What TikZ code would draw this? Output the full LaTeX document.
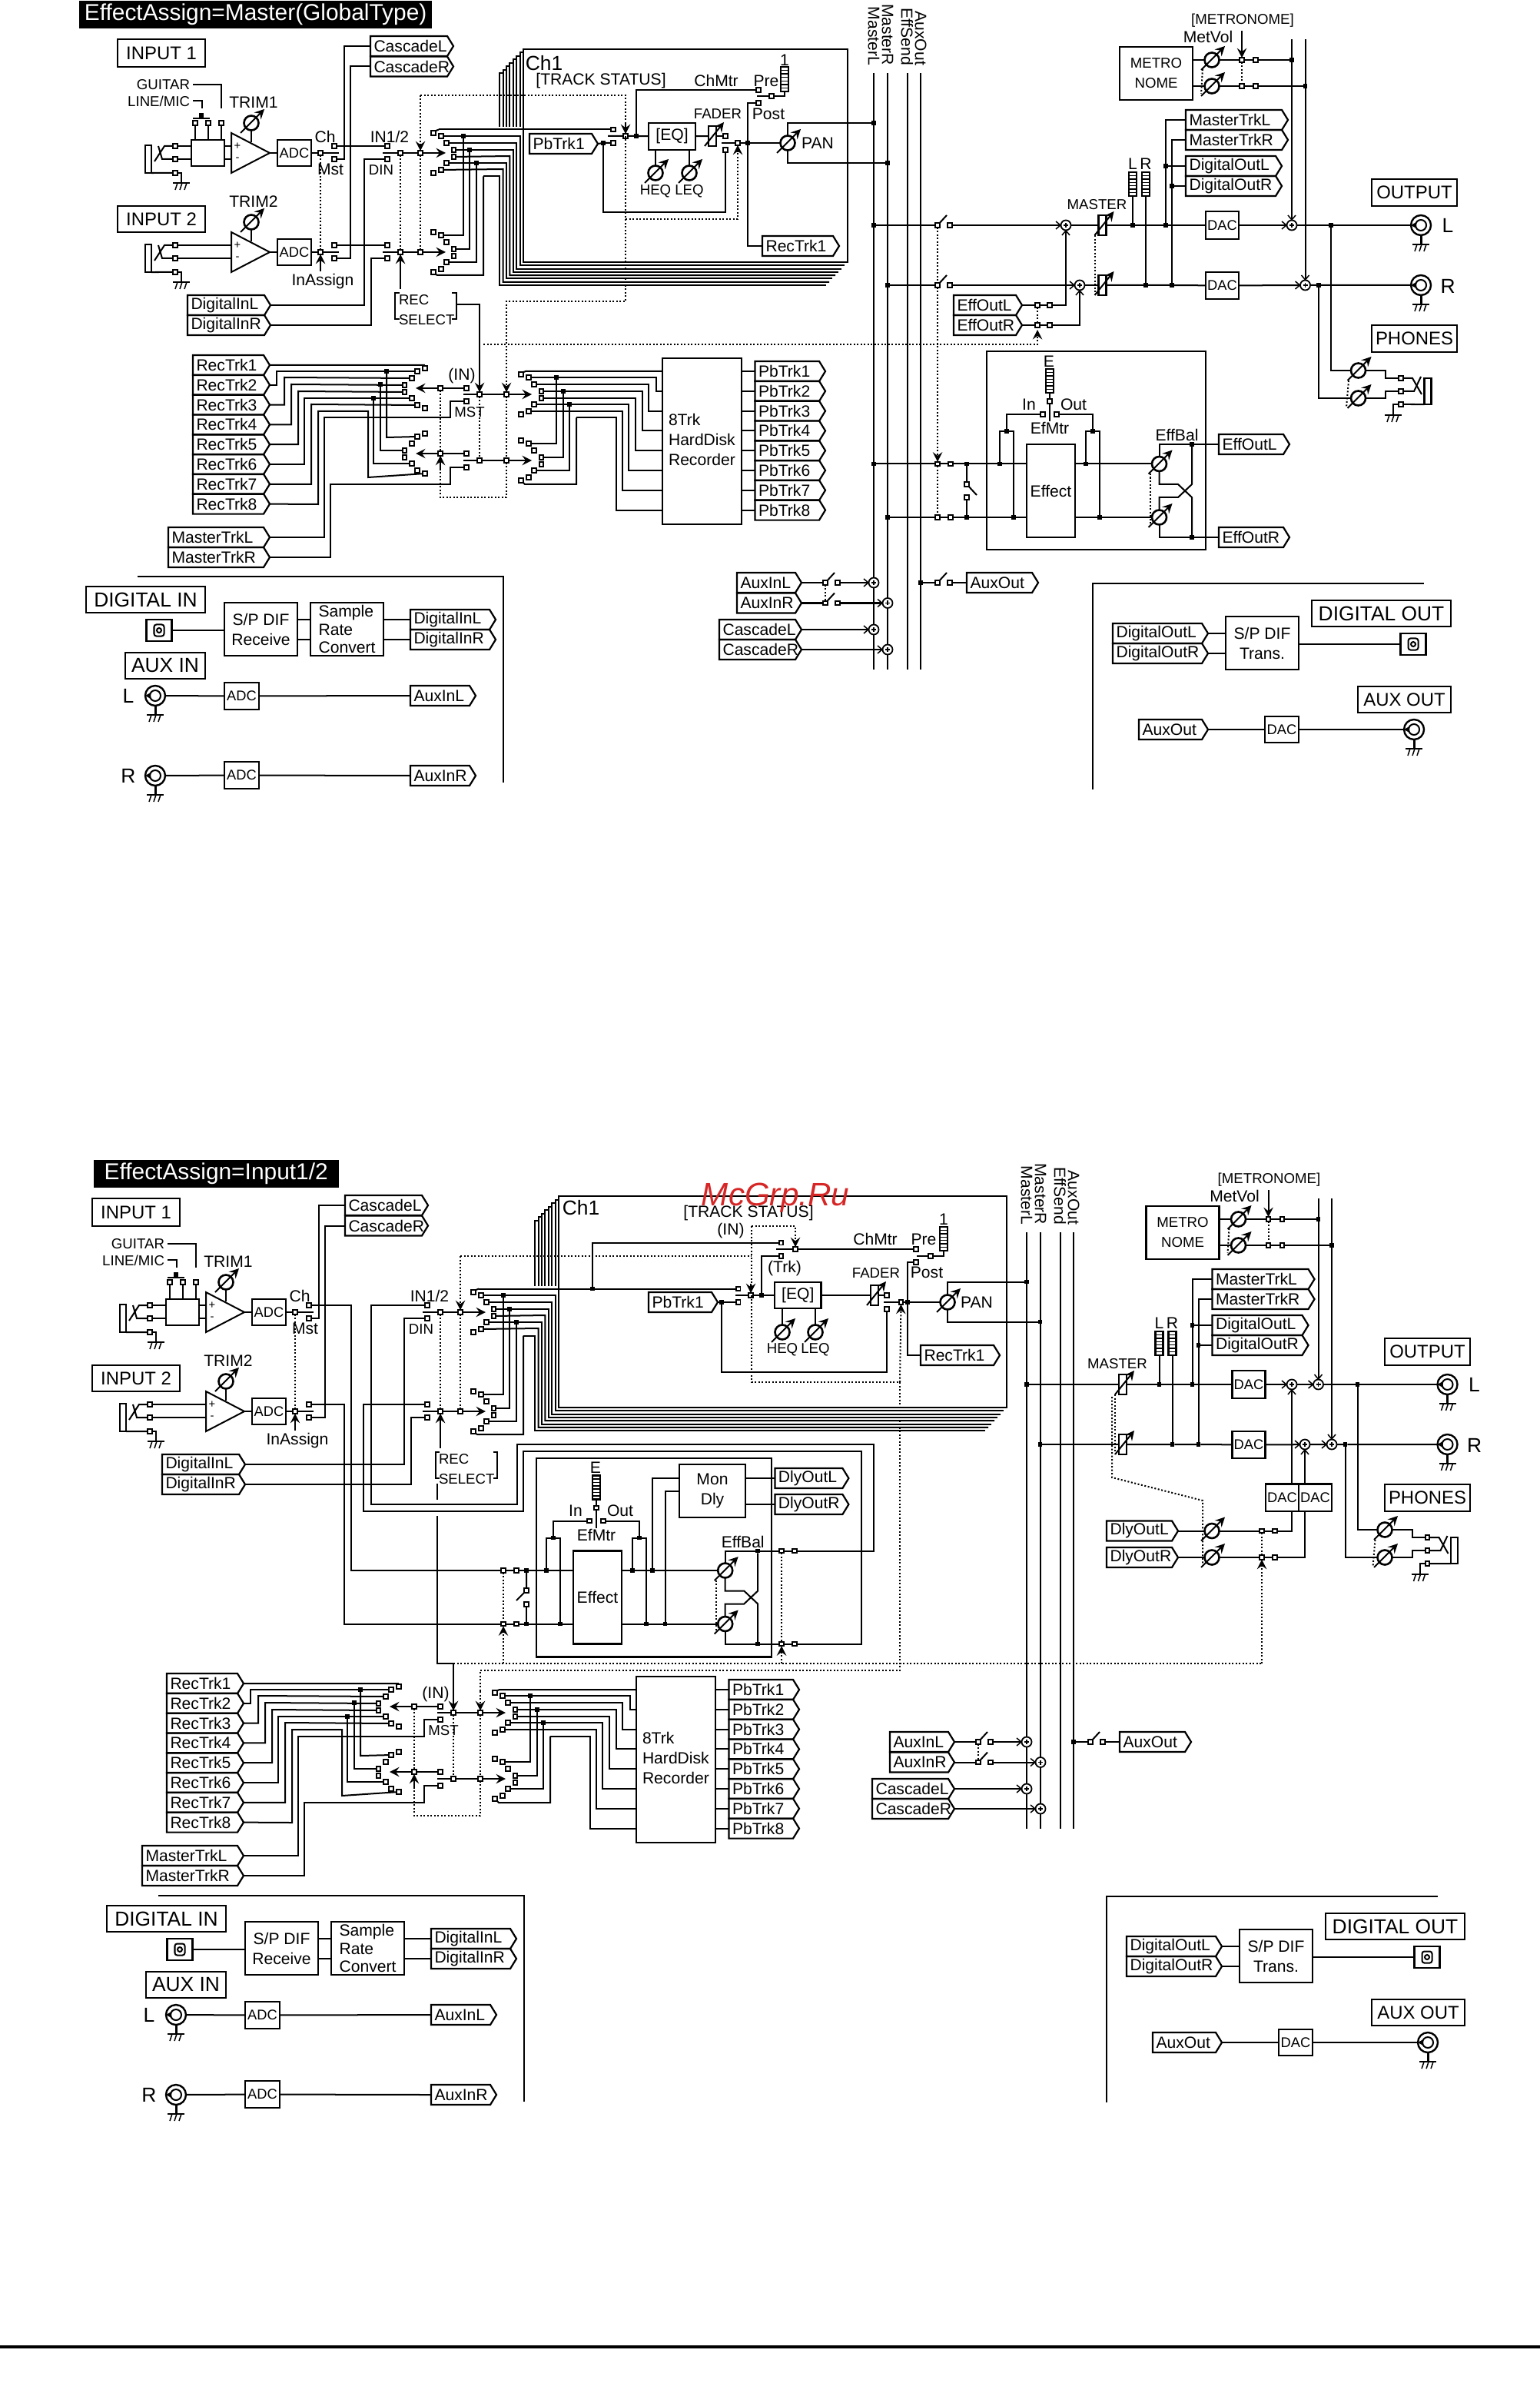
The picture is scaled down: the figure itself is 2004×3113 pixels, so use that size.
\documentclass[tikz,border=0pt]{standalone}
\usepackage{fontspec}
\setmainfont{Liberation Sans}

\newcommand{\tm}[3]{\node[term] (#1) at (#2,#3) {};}
\newcommand{\jd}[3]{\node[jdot] (#1) at (#2,#3) {};}
\newcommand{\lb}[4][]{\node[lab,#1] (#2) at (#3) {#4};}
\newcommand{\boxat}[6][]{\node[blk,anchor=north west,minimum width={(#4-#2)*0.01cm},minimum height={(#5-#3)*0.01cm},#1] (\boxname) at (#2,#3) {#6};}
\newcommand{\bx}[1]{\def\boxname{#1}\boxat}
\newcommand{\sigtag}[5]{%
    \pgfmathsetlengthmacro\tagw{(#4-9)*0.01cm}
    \node[tagtxt,text width=\tagw] (#1) at (#2,#3) {#5};
    \draw[tagline] (#1.north west) -- ([xshift=-.08cm]#1.north east) -- (#1.east) -- ([xshift=-.08cm]#1.south east) -- (#1.south west) -- cycle;}
\newcommand{\knobn}[3]{%
    \node[knobc] (#1) at (#2,#3) {};
    \draw[-stealth] (#2-14,#3+13) -- (#2+17,#3-18);}
\newcommand{\slidr}[3]{%
    \node[blk,minimum width=.1cm,minimum height=.26cm] (#1) at (#2,#3) {};
    \draw[-stealth] (#2-10,#3+13) -- (#2+15,#3-18);}
\newcommand{\mtr}[4]{%
    \node[blk,minimum width=.1cm,minimum height={(#4-#3)*0.01cm}] (#1) at (#2,{(#3+#4)/2}) {};
    \foreach \k in {1,...,6} {\draw[line width=.015cm] (#2-5,{#3+(#4-#3)*\k/7}) -- ++(10,0);}}
\newcommand{\gnd}[3]{%
    \coordinate (#1) at (#2,#3);
    \draw (#2-11,#3) -- (#2+11,#3);
    \foreach \k in {-6,0,6} {\draw[line width=.015cm] (#2+\k+1,#3) -- ++(-3,9);}}
\newcommand{\jackn}[3]{%
    \node[jackc] (#1) at (#2,#3) {};
    \node[jackd] (#1in) at (#2,#3) {};
    \fill (#2-13,#3) -- (#2-6,#3-4) -- (#2-6,#3+4) -- cycle;
    \draw[line width=.03cm] (#1) -- (#2,#3+24);
    \gnd{#1e}{#2}{#3+25}}
\newcommand{\sumj}[4]{%
    \node[sumc] (#1) at (#2,#3) {};
    \draw[line width=.015cm] (#2-3,#3) -- (#2+3,#3) (#2,#3-3) -- (#2,#3+3);
    \draw[line width=.015cm] (#2-13,#3-5) -- (#2-7,#3) -- (#2-13,#3+5);
    \ifnum#4=0\else\draw[line width=.015cm] (#2-5,#3+#4*13) -- (#2,#3+#4*7) -- (#2+5,#3+#4*13);\fi}
\newcommand{\optic}[3]{%
    \node[blk,minimum width=.33cm,minimum height=.28cm] (#1) at (#2,#3) {};
    \node[draw,rounded corners=.03cm,minimum width=.13cm,minimum height=.15cm,inner sep=0pt] (#1s) at (#2,#3) {};
    \node[jackd,minimum size=.06cm] (#1c) at (#2,#3) {};}
\newcommand{\fan}[4]{%
    \foreach \i/\ox/\oy in {1/-17/-26,2/-7/-22,3/0/-13,4/9.5/-4,5/9.5/5,6/0/13,7/-7/22,8/-17/26} {
        \node[term] (#1\i) at ({#2+#4*\ox},{#3+\oy}) {};}}
\newcommand{\sw}[4]{%
    \tm{#1}{#3}{#4}\tm{#2}{#3+16}{#4}
    \draw (#1) -- ++(12,-13);}

\newcommand{\inchan}[2]{%
    \begin{scope}[shift={(0,#2)}]
        \node[blk,minimum width=.08cm,minimum height=.36cm] (bar#1) at (193,207) {};
        \tm{tip#1}{228}{190}\tm{ring#1}{228}{207}\tm{slv#1}{228}{225}
        \draw (tip#1) -- (214,190) -- (201,210);
        \draw (ring#1) -- (211,207) -- (206,190);
        \draw (bar#1.south east) -- (slv#1);
        \draw (slv#1) -- (236,225) -- (236,238);
        \gnd{earth#1}{236}{238}
        \coordinate (amp#1) at (351,199);
        \draw (301,173) -- (301,225) -- (amp#1) -- cycle;
        \lb[tinyl]{plus#1}{309,190}{+}
        \lb[tinyl]{minus#1}{309,207}{-}
        \knobn{trim#1}{327}{160}
        \draw (trim#1) -- (327,185);
        \lb{trimlab#1}{330,133}{TRIM#1}
        \bx{adc#1}[abc]{361}{182}{405}{216}{ADC}
        \draw (amp#1) -- (adc#1);
        \tm{com#1}{417}{199}\tm{ch#1}{435}{190}\tm{ms#1}{435}{207}
        \draw (adc#1) -- (com#1) -- (441,199);
    \end{scope}}

\newcommand{\inblk}[3]{%
    \begin{scope}[shift={(#2,#3)},name prefix=#1-]
        \bx{inA}[midb]{153}{51}{267}{87}{INPUT 1}
        \bx{inB}[midb]{153}{268}{267}{302}{INPUT 2}
        \inchan{1}{0}
        \inchan{2}{129}
        \bx{xf}{249}{182}{292}{216}{}
        \draw (tip1) -- (xf.west |- tip1);
        \draw (ring1) -- (xf.west |- ring1);
        \draw (292,190) -- (301,190) (292,207) -- (301,207);
        \draw (tip2) -- (301,319);
        \draw (ring2) -- (301,336);
        \tm{gt1}{254}{160}\tm{gt2}{271}{160}\tm{gt3}{288}{160}
        \draw (gt1) -- (254,182) (gt2) -- (271,182) (gt3) -- (288,182);
        \draw (251,154) -- (273,154);
        \jd{gtd}{262}{150}
        \lb[capl,anchor=east]{guit}{247,110}{GUITAR}
        \lb[capl,anchor=east]{lmic}{247,132}{LINE/MIC}
        \draw (251,110) -- (288,110) -- (288,141);
        \draw (251,131) -- (263,131) -- (263,141);
        \lb{chl}{423,178}{Ch}
        \lb{mstl}{430,220}{Mst}
        \lb{asgn}{420,366}{InAssign}
        \draw[link] (com1) -- (com2);
        \draw[-stealth] (417,353) -- (com2);
        \sigtag{cascL}{482}{60}{108}{CascadeL}
        \sigtag{cascR}{482}{86.5}{108}{CascadeR}
        \draw (ms1) -- (448,207) -- (448,60) -- (cascL.west);
        \draw (ms2) -- (456,336) -- (456,86.5) -- (cascR.west);
        \sigtag{digL}{244}{397}{108}{DigitalInL}
        \sigtag{digR}{244}{423}{108}{DigitalInR}
    \end{scope}}

\newcommand{\selblk}[7]{%
    \begin{scope}[shift={(#2,#3)},name prefix=#1-]
        \lb{inl}{507,178}{IN1/2}
        \lb[capl]{din}{496,221}{DIN}
        \tm{a1}{504}{190}\tm{a2}{504}{207}\tm{a3}{504}{319}\tm{a4}{504}{336}
        \coordinate (armA) at (498,199);
        \coordinate (armB) at (498,328);
        \fan{b}{581}{199}{1}
        \fan{c}{581}{328}{1}
        \draw[-stealth] (armA) -- (580,199);
        \draw[-stealth] (armB) -- (580,328);
        \tm{s1}{521}{199}\tm{t1}{547}{199}\tm{s2}{521}{328}\tm{t2}{547}{328}
        \draw[link] (s1) -- (s2);
        \draw[link] (t1) -- (t2);
        \draw[-stealth] (521,376) -- (s2);
        \coordinate (w1) at (571,168.5);
        \draw (b1.north east) -- (w1);
        \draw[box] (#4,#6) rectangle (#5,#7);
        \foreach \i/\ly/\bk in {1/177/b2,2/186/b3,3/195/b4,4/203/b5,5/212/b6,6/220/b7} {
            \draw (\bk) -- ({#4-4.4*\i},\ly) -- ({#4-4.4*\i},{#7+4.3*\i}) -- ({#5-4*\i},{#7+4.3*\i});
            \draw ({#4-4.4*\i},165) -- ({#4-4.4*\i},{#6+4.5*\i}) -- ({#4-4.4*\i+4.4},{#6+4.5*\i});}
        \draw (629,229.5) -- ({#4-30.8},229.5) -- ({#4-30.8},{#7+30.1}) -- ({#5-28},{#7+30.1});
        \draw ({#4-30.8},165) -- ({#4-30.8},{#6+31.5}) -- ({#4-26.4},{#6+31.5});
        \jd{dA}{603}{177}\jd{dB}{611}{195}\jd{dC}{620}{212}
        \draw (dA) -- (603,306) -- (c2);
        \draw (dB) -- (611,324) -- (c4);
        \draw (dC) -- (620,341) -- (c6);
        \draw (629,229.5) -- (629,358) -- (569,358) -- (c8.south east);
    \end{scope}}

\newcommand{\recblk}[3]{%
    \begin{scope}[shift={(#2,#3)},name prefix=#1-]
        \foreach \i in {1,...,8} {\sigtag{recT\i}{251}{{475+25.8*(\i-1)}}{100}{RecTrk\i}}
        \sigtag{mstL}{219}{699}{132}{MasterTrkL}
        \sigtag{mstR}{219}{725}{132}{MasterTrkR}
        \fan{fa}{536}{505}{-1}
        \fan{fb}{536}{590}{-1}
        \draw (recT1.east) -- (552,475) -- (fa1);
        \foreach \i/\xv/\yw in {2/360/483,3/370/491,4/379/500,5/388/509,6/396/518,7/405/526} {
            \draw (recT\i.east) -- (\xv,{475+25.8*(\i-1)}) -- (\xv,\yw) -- (fa\i);}
        \draw (recT8.east) -- (414,656) -- (414,535) -- (479,535) -- (479,621) -- (fb8);
        \jd{dp}{503}{483}\jd{dq}{495}{500}\jd{dr}{486}{518}
        \draw (dp) -- (503,569) -- (fb2);
        \draw (dq) -- (495,586) -- (fb4);
        \draw (dr) -- (486,603) -- (fb6);
        \tm{ma1}{573}{505}\tm{ma2}{573}{590}\tm{pi1}{607}{505}\tm{pi2}{607}{590}
        \tm{ms1}{607}{522}\tm{ms2}{607}{608}
        \draw (pi1) -- (ma1);
        \draw (pi2) -- (ma2);
        \draw[-stealth] (ma1) -- (541,505);
        \draw[-stealth] (ma2) -- (541,590);
        \lb{inl}{601,489}{(IN)}
        \lb[capl]{mstl}{611,536}{MST}
        \draw (mstL.east) -- (422,699) -- (422,543.5) -- (586,543.5) -- (586,522) -- (ms1);
        \draw (mstR.east) -- (430,725) -- (430,630) -- (586,630) -- (586,608) -- (ms2);
        \coordinate (arA) at (603,513);
        \coordinate (arB) at (603,599);
        \draw[-stealth] (arA) -- (692,513);
        \draw[-stealth] (arB) -- (692,599);
        \tm{co1}{624}{513}\tm{co2}{659}{513}\tm{co3}{624}{599}\tm{co4}{659}{599}
        \draw[link] (co1) -- (co3);
        \draw[link] (ma1) -- (ma2);
        \draw[link] (co2) -- (co4);
        \draw[link] (co4) -- (659,647) -- (573,647) -- (573,610);
        \draw[-stealth] (573,610) -- (ma2);
        \fan{fc}{695}{513}{1}
        \fan{fd}{695}{599}{1}
        \bx{hd}{862}{466}{965}{682}{}
        \lb[anchor=west]{hdA}{870,546}{8Trk}
        \lb[anchor=west]{hdB}{870,572}{HardDisk}
        \lb[anchor=west]{hdC}{870,598}{Recorder}
        \foreach \i in {1,...,8} {
            \sigtag{pbT\i}{982.5}{{483+25.8*(\i-1)}}{91.5}{PbTrk\i}
            \draw (hd.east |- pbT\i.west) -- (pbT\i.west);}
        \draw (fc1.north east) -- (684,483) -- (862,483);
        \foreach \i/\xv/\yw/\yh in {2/854/491/509,3/844/500/535,4/836/509/560,5/827/518/586,6/818/526/612,7/810/535/638} {
            \draw (fc\i) -- (\xv,\yw) -- (\xv,\yh) -- (862,\yh);}
        \draw (750,543.5) -- (802,543.5) -- (802,664) -- (862,664);
        \jd{dt}{724}{491}\jd{du}{733}{509}\jd{dv}{741}{526}
        \draw (dt) -- (724,577) -- (fd2);
        \draw (du) -- (733,595) -- (fd4);
        \draw (dv) -- (741,612) -- (fd6);
        \draw (750,543.5) -- (750,630) -- (683,630) -- (fd8.south east);
    \end{scope}}

\newcommand{\digin}[3]{%
    \begin{scope}[shift={(#2,#3)},name prefix=#1-]
        \draw[box] (179,750) -- (655,750) -- (655,1018);
        \bx{dbox}[big]{112}{763}{267}{797}{DIGITAL IN}
        \bx{abox}[big]{163}{849}{267}{883}{AUX IN}
        \optic{opt}{207}{820}
        \bx{spd}{292}{784}{387}{853}{S/P DIF\\Receive}
        \bx{src}[align=left,font=\fontsize{6}{6.7}\selectfont]{404}{784}{499}{853}{Sample\\Rate\\Convert}
        \sigtag{dL}{534}{806}{111}{DigitalInL}
        \sigtag{dR}{534}{832}{111}{DigitalInR}
        \draw (opt) -- (spd.west |- opt);
        \draw (387,806) -- (404,806) (387,832) -- (404,832);
        \draw (499,806) -- (dL.west);
        \draw (499,832) -- (dR.west);
        \foreach \s/\yy/\tx/\boxy in {L/905/L/888,R/1009/R/991} {
            \lb{jl\s}{167,\yy}{\fontsize{7.5}{9}\selectfont \tx}
            \jackn{jk\s}{202}{\yy}
            \bx{ad\s}[abc]{292}{\boxy}{337}{\boxy+35}{ADC}
            \sigtag{au\s}{534}{\yy}{85}{AuxIn\s}
            \draw (jk\s) -- (ad\s);
            \draw (ad\s) -- (au\s.west);}
    \end{scope}}

\newcommand{\digout}[3]{%
    \begin{scope}[shift={(#2,#3)},name prefix=#1-]
        \draw[box] (1853,759) -- (1422,759) -- (1422,1027);
        \bx{dbox}[big]{1707}{781}{1888}{815}{DIGITAL OUT}
        \bx{abox}[midb]{1767}{893}{1888}{927}{AUX OUT}
        \sigtag{oL}{1448}{824}{124}{DigitalOutL}
        \sigtag{oR}{1448}{850}{124}{DigitalOutR}
        \bx{spd}{1595}{802}{1690}{871}{S/P DIF\\Trans.}
        \optic{opt}{1839}{838}
        \draw (oL.east) -- (spd.west |- oL.east);
        \draw (oR.east) -- (spd.west |- oR.east);
        \draw (spd.east |- opt) -- (opt);
        \sigtag{aux}{1482}{949}{90}{AuxOut}
        \bx{dac}[abc]{1646}{932}{1690}{966}{DAC}
        \jackn{jk}{1840}{949}
        \draw (aux.east) -- (dac);
        \draw (dac) -- (jk);
    \end{scope}}

\newcommand{\busblk}[3]{%
    \begin{scope}[shift={(#2,#3)},name prefix=#1-]
        \foreach \nm/\xb in {MasterL/1137,MasterR/1155,EffSend/1180.5,AuxOut/1198} {
            \coordinate (bt\nm) at (\xb,95);
            \coordinate (bb\nm) at (\xb,871);
            \draw (bt\nm) -- (bb\nm);
            \node[lab,rotate=-90,anchor=east] (bl\nm) at (\xb,85) {\nm};}
        \sigtag{auL}{959}{758}{84}{AuxInL}
        \sigtag{auR}{959}{784.5}{84}{AuxInR}
        \sigtag{caL}{936}{819}{107}{CascadeL}
        \sigtag{caR}{936}{845}{107}{CascadeR}
        \sw{sa}{sb}{1074}{758}
        \sw{sc}{sd}{1074}{784.5}
        \draw[link] (sa) -- (sc);
        \sumj{s1}{1137}{758}{0}
        \sumj{s2}{1155}{784.5}{0}
        \sumj{s3}{1137}{819}{0}
        \sumj{s4}{1155}{845}{0}
        \draw (auL.east) -- (sa);
        \draw (auR.east) -- (sc);
        \draw (sb) -- (s1);
        \draw (sd) -- (s2);
        \draw (caL.east) -- (s3);
        \draw (caR.east) -- (s4);
        \jd{ao}{1198}{758}
        \sw{se}{sf}{1220}{758}
        \sigtag{aot}{1258}{758}{93}{AuxOut}
        \draw (ao) -- (se);
        \draw (sf) -- (aot.west);
    \end{scope}}

\newcommand{\outblk}[5]{%
    \begin{scope}[shift={(#2,#3)},name prefix=#1-]
        \bx{mbox}[capl]{1457}{61}{1552}{130}{METRO\\NOME}
        \lb[capl]{mett}{1617,27}{[METRONOME]}
        \lb{metv}{1572,48}{MetVol}
        \knobn{mk1}{1577}{78}
        \knobn{mk2}{1577}{112}
        \tm{me1}{1616}{78}\tm{me2}{1634}{78}\tm{me3}{1616}{112}\tm{me4}{1634}{112}
        \jd{md1}{1681}{78}\jd{md2}{1698.5}{112}
        \draw (1552,78) -- (mk1) -- (me1) -- (me2) -- (md1);
        \draw (1552,112) -- (mk2) -- (me3) -- (me4) -- (md2);
        \draw[link] (me1) -- (me3);
        \draw[link] (1565,90) -- (1563,122);
        \draw[-stealth] (1616,40) -- (me1);
        \slidr{fL}{#4}{293}
        \slidr{fR}{#4}{371}
        \draw[link] ([xshift=-.1cm]fL.south) -- ([xshift=-.1cm]fR.south);
        \lb[capl]{mstl}{{#4-7},266}{MASTER}
        \mtr{mL}{1474}{224}{255}
        \mtr{mR}{1491}{224}{255}
        \lb{mLl}{1474,213}{L}
        \lb{mRl}{1491,213}{R}
        \sigtag{tL}{1543}{156}{133}{MasterTrkL}
        \sigtag{tR}{1543}{182}{133}{MasterTrkR}
        \sigtag{gL}{1543}{216}{125}{DigitalOutL}
        \sigtag{gR}{1543}{242}{125}{DigitalOutR}
        \bx{daL}[abc]{1569}{275}{1612}{311}{DAC}
        \bx{daR}[abc]{1569}{354}{1612}{389}{DAC}
        \jd{pL}{1474}{293}\jd{pR}{1491}{371}\jd{qL}{1517}{293}\jd{qR}{1525}{371}
        \jd{rL}{1517}{216}\jd{rR}{1525}{242}
        \sumj{sL}{1681}{293}{-1}
        \sumj{sR}{1698.5}{371}{-1}
        \jd{uL}{1732}{293}\jd{uR}{1716}{371}
        \jackn{jL}{1849}{293}
        \jackn{jR}{1849}{371}
        \lb{jLl}{1884,293}{\fontsize{7.5}{9}\selectfont L}
        \lb{jRl}{1884,372}{\fontsize{7.5}{9}\selectfont R}
        \draw (fL) -- (pL) -- (qL) -- (daL) -- (sL) -- (uL) -- (jL);
        \draw (fR) -- (pR) -- (qR) -- (daR) -- (sR) -- (uR) -- (jR);
        \draw (md1) -- (1681,51);
        \draw (md2) -- (1698.5,51);
        \draw (md1) -- (sL);
        \draw (md2) -- (sR);
        \draw (pL) -- (mL);
        \draw (pR) -- (mR);
        \draw (qL) -- (rL) -- (1517,156) -- (tL.west);
        \draw (qR) -- (rR) -- (1525,182) -- (tR.west);
        \draw (rL) -- (gL.west);
        \draw (rR) -- (gR.west);
        \bx{obox}[midb]{#5}{233}{#5+111}{268}{OUTPUT}
        \bx{pbox}[midb]{#5}{423}{#5+111}{458}{PHONES}
        \knobn{phL}{1767.5}{482}
        \knobn{phR}{1767.5}{518}
        \draw[link] (1755,495) -- (1752,530);
        \draw (uL) -- (1732,482) -- (phL);
        \draw (uR) -- (1716,518) -- (phR);
        \tm{pa}{1823}{492}\tm{pb}{1823}{509}\tm{pc}{1823}{526}
        \draw (phL) -- (1803,482) -- (1803,492) -- (pa);
        \draw (phR) -- (1803,518) -- (1803,509) -- (pb);
        \node[blk,minimum width=.09cm,minimum height=.34cm] (pbar) at (1858,509) {};
        \draw (pa) -- (1838,492) -- (1850,513);
        \draw (pb) -- (1840,509) -- (1849,490);
        \draw (pc) -- (pbar.south west);
        \draw (pc) -- (1813,526) -- (1813,540);
        \gnd{pe}{1813}{540}
    \end{scope}}

\newcommand{\effcore}[4]{%
    \begin{scope}[shift={(#2,#3)},name prefix=#1-]
        \bx{eff}{1336}{578}{1399}{699}{Effect}
        \mtr{emt}{1366}{480}{511}
        \lb{el}{1365,470}{E}
        \tm{et}{1366}{522}\tm{ei}{1357}{539}\tm{eo}{1375}{539}
        \draw (emt) -- (et) -- (1366,548);
        \lb{il}{1339,526}{In}
        \lb{ol}{1397,526}{Out}
        \lb{ml}{1366,557}{EfMtr}
        \jd{iL}{1301}{603.5}\jd{iR}{1319}{673}\jd{oL}{1413}{603.5}\jd{oR}{1431}{673}
        \jd{ji}{1310}{561}\jd{jo}{1422}{561}
        \draw (ei) -- (1310,539) -- (ji);
        \draw (iL) -- (1301,561) -- (1319,561) -- (iR);
        \draw (eo) -- (1422,539) -- (jo);
        \draw (oL) -- (1413,561) -- (1431,561) -- (oR);
        \draw (iL) -- (eff.west |- iL);
        \draw (iR) -- (eff.west |- iR);
        \draw (eff.east |- oL) -- (oL);
        \draw (eff.east |- oR) -- (oR);
        \knobn{kL}{#4}{603.5}
        \knobn{kR}{#4}{673}
        \draw (oL) -- (kL);
        \draw (oR) -- (kR);
        \draw[link] ({#4-12},616) -- ({#4-12},683);
        \lb{bl}{{#4+23},566}{EffBal}
        \jd{xT}{{#4+42.5}}{578}\jd{xB}{{#4+42.5}}{699}
        \draw (kL) -- (#4,578) -- (xT);
        \draw (kR) -- (#4,699) -- (xB);
        \draw (kL) -- (#4,630) -- ({#4+24.5},630) -- ({#4+42.5},647) -- (xB);
        \draw (kR) -- (#4,647) -- ({#4+24.5},647) -- ({#4+42.5},630) -- (xT);
    \end{scope}}

\begin{document}
\begin{tikzpicture}[x=.01cm,y=-.01cm,line width=.02cm]
        \tikzstyle{lab}=[inner sep=0pt, outer sep=0pt, font=\fontsize{6}{7.4}\selectfont]
        \tikzstyle{capl}=[font=\fontsize{5.3}{7.4}\selectfont]
        \tikzstyle{tinyl}=[font=\fontsize{4.2}{4.6}\selectfont]
        \tikzstyle{abc}=[font=\fontsize{5.2}{6}\selectfont]
        \tikzstyle{big}=[line width=.026cm, font=\fontsize{7.5}{9}\selectfont]
        \tikzstyle{midb}=[line width=.026cm, font=\fontsize{6.8}{9}\selectfont]
        \tikzstyle{blk}=[draw, fill=white, inner sep=0pt, outer sep=0pt, align=center, line width=.024cm, font=\fontsize{6}{7.4}\selectfont]
        \tikzstyle{box}=[line width=.026cm]
        \tikzstyle{tagtxt}=[anchor=west, inner xsep=.045cm, inner ysep=0pt, outer sep=0pt, minimum height=.26cm, align=left, font=\fontsize{6}{7}\selectfont]
        \tikzstyle{tagline}=[line width=.022cm]
        \tikzstyle{term}=[draw, fill=white, rectangle, inner sep=0pt, outer sep=0pt, minimum size=.055cm, line width=.016cm]
        \tikzstyle{jdot}=[fill=black, rectangle, inner sep=0pt, outer sep=0pt, minimum size=.055cm]
        \tikzstyle{knobc}=[draw, fill=white, circle, inner sep=0pt, outer sep=0pt, minimum size=.19cm, line width=.026cm]
        \tikzstyle{jackc}=[draw, fill=white, circle, inner sep=0pt, outer sep=0pt, minimum size=.26cm, line width=.024cm]
        \tikzstyle{jackd}=[draw, circle, inner sep=0pt, outer sep=0pt, minimum size=.14cm, line width=.02cm]
        \tikzstyle{sumc}=[draw, fill=white, circle, inner sep=0pt, outer sep=0pt, minimum size=.13cm, line width=.018cm]
        \tikzstyle{link}=[dash pattern=on .02cm off .025cm]

        \useasboundingbox (0,0) rectangle (2004,3113);

        \node[fill=black, text=white, inner sep=0pt, minimum width=4.59cm, minimum height=.36cm, anchor=north west, font=\fontsize{8.5}{9}\selectfont] (titleA) at (102,0) {EffectAssign=Master(GlobalType)};

        \inblk{m-in}{0}{0}
        \selblk{m-sel}{0}{0}{681}{1103}{64}{341}
        \recblk{m-rec}{0}{0}
        \digin{m-dig}{0}{0}
        \digout{m-dgo}{0}{0}
        \busblk{m-bus}{0}{0}
        \outblk{m-out}{0}{0}{1434.5}{1785}
        \draw (m-in-ch1) -- (m-sel-a1);
        \draw (m-in-ch2) -- (m-sel-a3);
        \draw (m-in-digL.east) -- (474,397) -- (474,207) -- (m-sel-a2);
        \draw (m-in-digR.east) -- (483,423) -- (483,336) -- (m-sel-a4);

        \lb{chA}{708,82}{\fontsize{7.5}{9}\selectfont Ch1}
        \lb{tsA}{782,105}{[TRACK STATUS]}
        \lb{cmA}{932,105}{ChMtr}
        \lb{prA}{997,105}{Pre}
        \lb{poA}{1000,148}{Post}
        \lb[capl]{faA}{934,148}{FADER}
        \lb{oneA}{1021,78}{1}
        \tm{chiA}{798}{168.5}\tm{chpA}{798}{186}
        \sigtag{pbA}{689}{187}{89}{PbTrk1}
        \jd{pbdA}{785}{186}
        \draw (m-sel-w1) -- (chiA);
        \draw (pbA.east) -- (pbdA) -- (chpA);
        \bx{eqA}{844}{160}{905}{195}{[EQ]}
        \coordinate (armqA) at (791,177);
        \tm{trkA}{814}{177}\jd{tapA}{828}{177}
        \draw (armqA) -- (trkA) -- (tapA) -- (eqA);
        \tm{preA}{987}{117}\tm{postA}{987}{134}
        \draw (tapA) -- (828,117) -- (preA);
        \jd{sendA}{973}{186}
        \sigtag{rtA}{992}{320}{100}{RecTrk1}
        \draw (postA) -- (973,134) -- (sendA) -- (973,320) -- (rtA.west);
        \slidr{fdA}{927}{177}
        \draw (eqA) -- (fdA);
        \tm{fbA}{944}{177}\tm{fcA}{944}{195}
        \draw (fdA) -- (fbA);
        \coordinate (armfA) at (939,186);
        \tm{fmA}{960}{186}
        \knobn{panA}{1025}{186}
        \draw (armfA) -- (fmA) -- (sendA) -- (panA);
        \draw (pbdA) -- (785,276) -- (944,276) -- (fcA);
        \lb{plA}{1064,186}{PAN}
        \jd{plmA}{1137}{160}\jd{prmA}{1155}{212}
        \draw (panA) -- (1025,160) -- (plmA);
        \draw (panA) -- (1025,212) -- (prmA);
        \knobn{heqA}{853}{225}
        \knobn{leqA}{897}{225}
        \draw (heqA) -- (853,195);
        \draw (leqA) -- (897,195);
        \lb[capl]{hlA}{853,249}{HEQ}
        \lb[capl]{llA}{897,249}{LEQ}
        \mtr{mchA}{1021}{87}{119}
        \tm{mtA}{1004}{125}
        \draw (985,125) -- (mtA) -- (1021,125) -- (mchA);

        \draw[link,-stealth] (547,124) -- (m-sel-t1);
        \draw[link] (547,124) -- (814,124) -- (814,165);
        \draw[-stealth] (814,160) -- (trkA);
        \draw[link,-stealth] (814,177) -- (814,392) -- (659,392) -- (m-rec-co2);
        \draw[link,-stealth] (814,285) -- (960,285) -- (fmA);
        \node[lab, capl, align=left, anchor=north west] (rsA) at (519,383) {REC\\SELECT};
        \draw (520,381) -- (514,381) -- (514,415) -- (520,415);
        \draw (588,381) -- (594,381) -- (594,415) -- (588,415);
        \draw[-stealth] (594,396) -- (624,396) -- (m-rec-co1);
        \draw[link,-stealth] (629,448) -- (1350,448) -- (1350,429);

        \jd{bdLA}{1137}{293}\jd{bdRA}{1155}{371}
        \sw{swLa}{swLb}{1220}{293}
        \sw{swRa}{swRb}{1220}{371}
        \sumj{efLA}{1387}{293}{1}
        \sumj{efRA}{1405}{371}{1}
        \draw (bdLA) -- (swLa);
        \draw (swLb) -- (efLA) -- (m-out-fL);
        \draw (bdRA) -- (swRa);
        \draw (swRb) -- (efRA) -- (m-out-fR);
        \sigtag{eoLA}{1241}{397}{89}{EffOutL}
        \sigtag{eoRA}{1241}{423}{89}{EffOutR}
        \tm{etA}{1350}{397}\tm{etB}{1366}{397}\tm{etC}{1350}{423}\tm{etD}{1366}{423}
        \draw (eoLA.east) -- (etA) -- (etB) -- (1387,397) -- (efLA);
        \draw (eoRA.east) -- (etC) -- (etD) -- (1405,423) -- (efRA);
        \draw[link] (etA) -- (etC);

        \draw[box] (1284,457) rectangle (1569,715);
        \effcore{m-core}{0}{0}{1508.5}
        \jd{ebA}{1137}{603.5}\jd{ebB}{1155}{673}
        \tm{eaA}{1220}{603.5}\tm{eaB}{1237}{603.5}\jd{eaC}{1258}{603.5}
        \tm{faA}{1220}{673}\tm{faB}{1237}{673}\jd{faC}{1258}{673}
        \draw (ebA) -- (eaA) -- (eaB) -- (eaC) -- (m-core-iL);
        \draw (ebB) -- (faA) -- (faB) -- (faC) -- (m-core-iR);
        \tm{lkA}{1258}{630}\tm{lkB}{1258}{647}
        \draw (eaC) -- (lkA) -- (1271,644);
        \draw (lkB) -- (faC);
        \draw[link] (swLa) -- (swRa);
        \draw[link,-stealth] (swRa) -- (eaA);
        \draw[link] (eaA) -- (faA);
        \sigtag{efoLA}{1586}{578}{92}{EffOutL}
        \sigtag{efoRA}{1586}{699}{92}{EffOutR}
        \draw (m-core-xT) -- (efoLA.west);
        \draw (m-core-xB) -- (efoRA.west);

        \node[fill=black, text=white, inner sep=0pt, minimum width=3.19cm, minimum height=.36cm, anchor=north west, font=\fontsize{8.5}{9}\selectfont] (titleB) at (120.6,1508) {EffectAssign=Input1/2};

        \inblk{n-in}{-33}{1508}
        \selblk{n-sel}{52}{1508}{675}{1258}{48}{323}
        \recblk{n-rec}{-34}{1715}
        \digin{n-dig}{27}{1716}
        \digout{n-dgo}{18}{1708}
        \busblk{n-bus}{199}{1508}
        \outblk{n-out}{34.5}{1508}{1426.5}{1767.5}
        \draw (n-in-digL.east) -- (526,1905) -- (526,1715) -- (n-sel-a2);
        \draw (n-in-digR.east) -- (534.5,1931) -- (534.5,1844) -- (n-sel-a4);

        \lb{chB}{756,1571}{\fontsize{7.5}{9}\selectfont Ch1}
        \lb{tsB}{974,1578}{[TRACK STATUS]}
        \lb{iiB}{951,1601}{(IN)}
        \lb{tkB}{1021,1650}{(Trk)}
        \lb{cmB}{1139,1612}{ChMtr}
        \lb{prB}{1202,1612}{Pre}
        \lb{poB}{1206,1655}{Post}
        \lb[capl]{faB}{1140,1656}{FADER}
        \lb{oneB}{1228,1586}{1}
        \tm{chiB}{960.6}{1676.5}\tm{chpB}{960.6}{1694}
        \jd{linB}{771}{1676.5}
        \draw (n-sel-w1) -- (linB) -- (chiB);
        \tm{upB}{1016.5}{1616.6}\tm{loB}{1016.5}{1634}
        \draw (linB) -- (771,1616.6) -- (upB);
        \sigtag{pbB}{844}{1694}{90}{PbTrk1}
        \jd{pbdB}{939}{1694}
        \draw (pbB.east) -- (pbdB) -- (chpB);
        \bx{eqB}{1008}{1668}{1068.5}{1702}{[EQ]}
        \coordinate (armqB) at (957,1685);
        \tm{trkB}{977}{1685}\jd{tapB}{991}{1685}
        \draw (armqB) -- (trkB) -- (tapB) -- (eqB);
        \draw (loB) -- (991,1634) -- (tapB);
        \coordinate (armmB) at (1010,1625);
        \tm{midB}{1035}{1625}\tm{preB}{1192}{1625}\tm{postB}{1192}{1642}
        \draw (armmB) -- (midB) -- (preB);
        \jd{sendB}{1181}{1694}
        \sigtag{rtB}{1198}{1763}{103}{RecTrk1}
        \draw (postB) -- (1181,1642) -- (sendB) -- (1181,1763) -- (rtB.west);
        \mtr{mchB}{1228}{1596}{1627}
        \tm{mtB}{1211}{1634}
        \draw (1193,1634) -- (mtB) -- (1228,1634) -- (mchB);
        \slidr{fdB}{1138}{1685}
        \tm{fbB}{1154}{1685}\tm{fcB}{1154}{1703}
        \draw (eqB) -- (fdB) -- (fbB);
        \coordinate (armfB) at (1150,1694);
        \tm{fmB}{1172.5}{1694}
        \knobn{panB}{1233}{1694}
        \draw (armfB) -- (fmB) -- (sendB) -- (panB);
        \draw (pbdB) -- (939,1784.6) -- (1154,1784.6) -- (fcB);
        \lb{plB}{1271,1694}{PAN}
        \jd{plmB}{1336}{1667.5}\jd{prmB}{1353.5}{1719.5}
        \draw (panB) -- (1233,1667.5) -- (plmB);
        \draw (panB) -- (1233,1719.5) -- (prmB);
        \knobn{heqB}{1018}{1733}
        \knobn{leqB}{1061}{1733}
        \draw (heqB) -- (1018,1702);
        \draw (leqB) -- (1061,1702);
        \lb[capl]{hlB}{1018,1756}{HEQ}
        \lb[capl]{llB}{1061,1756}{LEQ}

        \jd{bdLB}{1336}{1801}\jd{bdRB}{1353.5}{1879}
        \draw (bdLB) -- (n-out-fL);
        \draw (bdRB) -- (n-out-fR);
        \sumj{efLB}{1681}{1801}{1}
        \sumj{efRB}{1698}{1879}{1}
        \bx{dcA}[abc]{1647}{1930.5}{1690}{1966}{DAC}
        \bx{dcB}[abc]{1690}{1930.5}{1733}{1966}{DAC}
        \draw (efLB) -- (efLB |- dcA.north);
        \draw (efRB) -- (efRB |- dcB.north);
        \sigtag{dloL}{1440}{1991.5}{93}{DlyOutL}
        \sigtag{dloR}{1440}{2026}{93}{DlyOutR}
        \knobn{dkL}{1577}{1991.5}
        \knobn{dkR}{1577}{2026}
        \tm{dtA}{1642}{1991.5}\tm{dtB}{1659}{1991.5}\tm{dtC}{1642}{2026}\tm{dtD}{1659}{2026}
        \draw (dloL.east) -- (dkL) -- (dtA) -- (dtB) -- (1681,1991.5) -- (efLB |- dcA.south);
        \draw (dloR.east) -- (dkR) -- (dtC) -- (dtD) -- (1698,2026) -- (efRB |- dcB.south);
        \draw[link] (dtA) -- (dtC);
        \draw[link] (1447,1817) -- (1447,1922) -- (1565,1952) -- (1565,2035);

        \draw[box] (698,1897) rectangle (1004,2155.6);
        \effcore{n-core}{-590}{1439.5}{1533.7}
        \tm{eaX}{655}{2043}\tm{ebX}{672}{2043}\jd{ecX}{685}{2043}
        \tm{faX}{655}{2112.5}\tm{fbX}{672}{2112.5}\jd{fcX}{685}{2112.5}
        \draw (n-in-ch1) -- (457,1698) -- (457,2043) -- (eaX) -- (ebX) -- (ecX) -- (n-core-iL);
        \draw (n-in-ch2) -- (448,1827) -- (448,2112.5) -- (faX) -- (fbX) -- (fcX) -- (n-core-iR);
        \tm{lkX}{685}{2069}\tm{lkY}{685}{2087}
        \draw (ecX) -- (lkX) -- (672,2082);
        \draw (lkY) -- (fcX);
        \draw[link] (eaX) -- (faX);
        \tm{ggA}{1017}{2017.5}\tm{ggB}{1034}{2017.5}\tm{hhA}{1017}{2138.5}\tm{hhB}{1034}{2138.5}
        \draw (n-core-xT) -- (ggA) -- (ggB) -- (1137,2017.5) -- (1137,1879) -- (673,1879) -- (673,1956.5) -- (482.6,1956.5) -- (482.6,1698) -- (n-sel-a1);
        \draw (n-core-xB) -- (hhA) -- (hhB) -- (1120.6,2138.5) -- (1120.6,1887.5) -- (681,1887.5) -- (681,1965.7) -- (473,1965.7) -- (473,1827) -- (n-sel-a3);
        \draw[link] (ggA) -- (hhA);
        \bx{mdl}{884}{1905}{970}{1974}{Mon\\Dly}
        \jd{mdA}{849}{2043}\jd{mdB}{865.6}{2112.5}
        \draw (mdA) -- (849,1923) -- (884,1923);
        \draw (mdB) -- (865.6,1940) -- (884,1940);
        \sigtag{dltL}{1008.4}{1923}{96}{DlyOutL}
        \sigtag{dltR}{1008.4}{1957}{96}{DlyOutR}
        \draw (970,1923) -- (dltL.west);
        \draw (970,1957) -- (dltR.west);

        \draw[link,-stealth] (599,1634) -- (n-sel-t1);
        \draw[link] (599,1634) -- (978,1634);
        \draw[link,-stealth] (978,1595) -- (1035,1595) -- (midB);
        \draw[-stealth] (977,1670) -- (trkB);
        \draw[link] (978,1595) -- (978,1798) -- (1171,1798) -- (1171,2173) -- (625,2173) -- (625,2200);
        \draw[link,-stealth] (1171,1798) -- (fmB);
        \draw[link,-stealth] (625,2200) -- (n-rec-co2);
        \node[lab, capl, align=left, anchor=north west] (rsB) at (571,1891) {REC\\SELECT};
        \draw (572,1889) -- (567,1889) -- (567,1923) -- (572,1923);
        \draw (642,1889) -- (647,1889) -- (647,1923) -- (642,1923);
        \draw (569,1930) -- (569,1951);
        \draw[-stealth] (569,1972) -- (569,2164) -- (590,2164) -- (n-rec-co1);
        \draw[link] (590,2164) -- (1642,2164);
        \draw[link,-stealth] (1642,2164) -- (dtC);
        \draw[link,-stealth] (655,2164) -- (faX);
        \draw[link,-stealth] (1017,2164) -- (hhA);

        \coordinate (ruleL) at (0,3053);
        \coordinate (ruleR) at (2004,3053);
        \draw[line width=.04cm] (ruleL) -- (ruleR);
        \node[text={rgb,255:red,214;green,38;blue,38}, inner sep=0pt, font=\fontsize{12}{14}\selectfont\itshape] (mark) at (1009,1558) {McGrp.Ru};
    \end{tikzpicture}
\end{document}
